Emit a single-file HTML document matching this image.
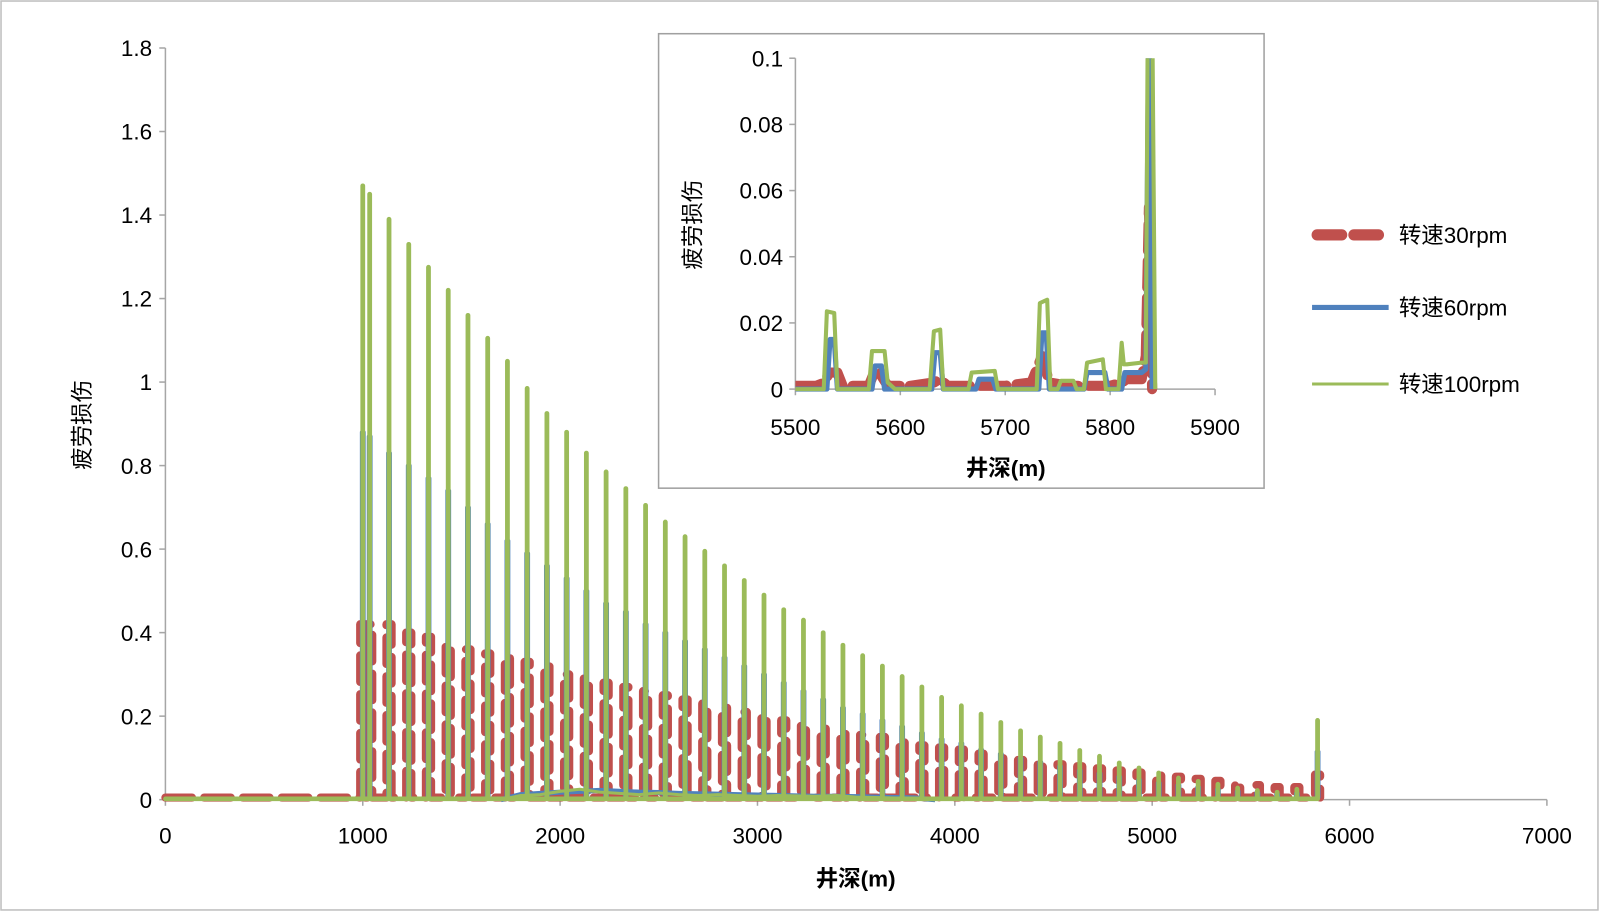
<!DOCTYPE html>
<html><head><meta charset="utf-8"><style>
html,body{margin:0;padding:0;background:#fff}
svg text{font-family:"Liberation Sans","Noto Sans CJK SC",sans-serif}
</style></head><body>
<svg id="chart" width="1600" height="912" viewBox="0 0 1567 893" preserveAspectRatio="none" xmlns="http://www.w3.org/2000/svg">
<rect x="1" y="1" width="1564" height="890" fill="#fff" stroke="#bfbfbf" stroke-width="1.5"/>
<defs>
<clipPath id="insetClip"><rect x="779" y="57" width="411" height="330"/></clipPath>
</defs>
<g id="main"></g>
<rect x="645" y="33" width="593" height="445" fill="#fff" stroke="#a0a0a0" stroke-width="1.5"/>
<g id="inset"></g>
<g id="legend">
<line x1="1290" y1="230" x2="1358" y2="230" stroke="#c0504d" stroke-width="11" stroke-dasharray="24,12" stroke-linecap="round"/>
<text x="1370" y="238" font-size="22">转速30rpm</text>
<line x1="1285" y1="301" x2="1360" y2="301" stroke="#4f81bd" stroke-width="5"/>
<text x="1370" y="309" font-size="22">转速60rpm</text>
<line x1="1285" y1="376" x2="1360" y2="376" stroke="#9bbb59" stroke-width="3"/>
<text x="1370" y="384" font-size="22">转速100rpm</text>
</g>
</svg>
<script>
// main chart data
const spikeDepths = [1000,1035,1133,1233,1333,1433,1533,1633,1733,1833,1933,2033,2133,2233,2333,2433,2533,2633,2733,2833,2933,3033,3133,3233,3333,3433,3533,3633,3733,3833,3933,4033,4133,4233,4333,4433,4533,4633,4733,4833,4933,5033,5133,5233,5333,5433,5533,5633,5733,5838];
const green100 = [1.47,1.45,1.39,1.33,1.275,1.22,1.16,1.105,1.05,0.985,0.925,0.88,0.83,0.785,0.745,0.705,0.665,0.63,0.595,0.56,0.525,0.49,0.455,0.43,0.40,0.37,0.345,0.32,0.295,0.27,0.245,0.225,0.205,0.185,0.165,0.15,0.135,0.118,0.104,0.088,0.076,0.064,0.052,0.044,0.037,0.028,0.022,0.018,0.025,0.19];
const blue60 = [0.88,0.87,0.83,0.80,0.77,0.74,0.70,0.66,0.62,0.59,0.56,0.53,0.50,0.47,0.45,0.42,0.40,0.38,0.36,0.34,0.32,0.30,0.28,0.26,0.24,0.22,0.205,0.19,0.175,0.16,0.145,0.135,0.12,0.11,0.10,0.09,0.08,0.07,0.063,0.055,0.048,0.04,0.035,0.03,0.025,0.02,0.017,0.013,0.015,0.115];
const red30 = [0.42,0.42,0.42,0.40,0.39,0.37,0.36,0.35,0.34,0.33,0.32,0.30,0.29,0.28,0.27,0.26,0.25,0.24,0.23,0.22,0.21,0.20,0.19,0.18,0.17,0.16,0.155,0.15,0.14,0.13,0.125,0.12,0.11,0.10,0.095,0.09,0.085,0.08,0.075,0.07,0.065,0.06,0.055,0.05,0.045,0.04,0.035,0.03,0.03,0.06];
// low-level background damage between spikes
const noiseDepths = [1700,1800,1900,2000,2100,2200,2300,2400,2500,2600,2700,2800,2900,3000,3100,3200,3300,3400,3500,3600,3700,3800,3900];
const blueNoise = [0,0.012,0.015,0.018,0.02,0.022,0.02,0.018,0.017,0.015,0.014,0.013,0.012,0.011,0.01,0.009,0.008,0.008,0.007,0.006,0.005,0.004,0];
const greenNoise = [0,0.01,0.012,0.02,0.025,0.018,0.015,0.012,0.016,0.012,0.01,0.012,0.01,0.008,0.01,0.009,0.008,0.01,0.006,0.005,0.004,0.003,0];
const xTicks = [0,1000,2000,3000,4000,5000,6000,7000];
const yTicks = [0,0.2,0.4,0.6,0.8,1,1.2,1.4,1.6,1.8];
// inset data
const insetXTicks = [5500,5600,5700,5800,5900];
const insetYTicks = [0,0.02,0.04,0.06,0.08,0.1];
const insetGreenX = [5500,5527,5530,5537,5540,5570,5573,5585,5588,5595,5628,5632,5638,5641,5665,5668,5690,5693,5730,5733,5740,5743,5750,5753,5765,5768,5775,5778,5793,5796,5808,5811,5813,5816,5830,5834,5836,5840,5843];
const insetGreenY = [0,0,0.0235,0.023,0,0,0.0115,0.0115,0.002,0,0,0.0175,0.018,0,0,0.005,0.0055,0,0,0.026,0.027,0,0,0.0025,0.0025,0,0,0.008,0.009,0,0,0.014,0.0075,0.0075,0.008,0.008,0.12,0.12,0];
const insetBlueX = [5500,5530,5533,5537,5540,5573,5576,5582,5585,5630,5633,5638,5641,5672,5675,5688,5691,5732,5735,5739,5742,5775,5778,5795,5798,5811,5814,5830,5834,5837,5840];
const insetBlueY = [0,0,0.015,0.015,0,0,0.007,0.007,0,0,0.011,0.011,0,0,0.003,0.003,0,0,0.017,0.017,0,0,0.005,0.005,0,0,0.005,0.005,0.006,0.12,0];
const insetRedX = [5500,5520,5528,5532,5540,5545,5570,5575,5580,5588,5610,5632,5638,5645,5700,5725,5735,5742,5760,5800,5812,5815,5830,5834,5837,5840];
const insetRedY = [0.001,0.001,0.002,0.005,0.005,0.001,0.001,0.005,0.005,0.001,0.001,0.002,0.003,0.001,0.001,0.002,0.01,0.002,0.001,0.001,0.002,0.003,0.003,0.01,0.055,0];

const NS = 'http://www.w3.org/2000/svg';
function mk(tag, attrs, parent){const e=document.createElementNS(NS,tag);for(const k in attrs)e.setAttribute(k,attrs[k]);parent.appendChild(e);return e;}

const X0=162,X1=1515,Y0=783,Y1=47;
const sx=v=>X0+(v/7000)*(X1-X0);
const sy=v=>Y0-(v/1.8)*(Y0-Y1);
const main=document.getElementById('main');
let ax=mk('line',{x1:X0,y1:Y1,x2:X0,y2:Y0,stroke:'#a6a6a6','stroke-width':1.5},main);


ax=mk('line',{x1:X0,y1:Y0,x2:X1,y2:Y0,stroke:'#a6a6a6','stroke-width':1.5},main);


yTicks.forEach(t=>{
  const y=sy(t);
  const tk=mk('line',{x1:X0-6,y1:y,x2:X0,y2:y,stroke:'#a6a6a6','stroke-width':1.5},main);
  
  
  const tx=mk('text',{x:X0-13,y:y+8,'font-size':22,'text-anchor':'end'},main);
  tx.textContent=String(t);
  
  
});
xTicks.forEach(t=>{
  const x=sx(t);
  const tk=mk('line',{x1:x,y1:Y0,x2:x,y2:Y0+6,stroke:'#a6a6a6','stroke-width':1.5},main);
  
  
  const tx=mk('text',{x:x,y:Y0+43,'font-size':22,'text-anchor':'middle'},main);
  tx.textContent=String(t);
  
  
});
let tt=mk('text',{x:838,y:868,'font-size':22,'font-weight':'bold','text-anchor':'middle'},main);
tt.textContent='井深(m)';


tt=mk('text',{x:0,y:0,'font-size':22,'text-anchor':'middle',transform:'translate(88,416) rotate(-90)'},main);
tt.textContent='疲劳损伤';



function spikePath(vals, half, base){
  let d=`M${sx(0)},${sy(base)} L${sx(spikeDepths[0]-half*2)},${sy(base)}`;
  spikeDepths.forEach((dp,i)=>{
    d+=` L${sx(dp-half)},${sy(base)} L${sx(dp-half)},${sy(vals[i])} L${sx(dp+half)},${sy(vals[i])} L${sx(dp+half)},${sy(base)}`;
  });
  return d;
}
function noisePath(vals){return noiseDepths.map((v,i)=>(i?'L':'M')+sx(v)+','+sy(vals[i])).join(' ');}
let p=mk('path',{d:spikePath(red30,13,0.005),fill:'none',stroke:'#c0504d','stroke-width':8,'stroke-dasharray':'26,12','stroke-linecap':'round','stroke-linejoin':'round'},main);


p=mk('path',{d:spikePath(blue60,7,0.003),fill:'none',stroke:'#4f81bd','stroke-width':3,'stroke-linejoin':'round'},main);


p=mk('path',{d:noisePath(blueNoise),fill:'none',stroke:'#4f81bd','stroke-width':5,'stroke-linejoin':'round'},main);


p=mk('path',{d:spikePath(green100,0.5,0.002),fill:'none',stroke:'#9bbb59','stroke-width':4.5,'stroke-linejoin':'round','stroke-linecap':'round'},main);


p=mk('path',{d:noisePath(greenNoise),fill:'none',stroke:'#9bbb59','stroke-width':3,'stroke-linejoin':'round'},main);



const IX0=779,IX1=1190,IY0=381,IY1=57;
const ix=v=>IX0+(v-5500)/400*(IX1-IX0);
const iy=v=>IY0-(v/0.1)*(IY0-IY1);
const inset=document.getElementById('inset');
ax=mk('line',{x1:IX0,y1:IY1,x2:IX0,y2:IY0,stroke:'#a6a6a6','stroke-width':1.5},inset);


ax=mk('line',{x1:IX0,y1:IY0,x2:IX1,y2:IY0,stroke:'#a6a6a6','stroke-width':1.5},inset);


insetYTicks.forEach(t=>{
  const y=iy(t);
  const tk=mk('line',{x1:IX0-6,y1:y,x2:IX0,y2:y,stroke:'#a6a6a6','stroke-width':1.5},inset);
  
  
  const tx=mk('text',{x:IX0-12,y:y+8,'font-size':22,'text-anchor':'end'},inset);
  tx.textContent=String(t);
  
  
});
insetXTicks.forEach(t=>{
  const x=ix(t);
  const tk=mk('line',{x1:x,y1:IY0,x2:x,y2:IY0+6,stroke:'#a6a6a6','stroke-width':1.5},inset);
  
  
  const tx=mk('text',{x:x,y:IY0+45,'font-size':22,'text-anchor':'middle'},inset);
  tx.textContent=String(t);
  
  
});
tt=mk('text',{x:985,y:466,'font-size':22,'font-weight':'bold','text-anchor':'middle'},inset);
tt.textContent='井深(m)';


tt=mk('text',{x:0,y:0,'font-size':22,'text-anchor':'middle',transform:'translate(686,220) rotate(-90)'},inset);
tt.textContent='疲劳损伤';


const ig=mk('g',{'clip-path':'url(#insetClip)'},inset);
function line(xs,ys){return xs.map((v,i)=>(i?'L':'M')+ix(v)+','+iy(ys[i])).join(' ');}
p=mk('path',{d:line(insetRedX,insetRedY),fill:'none',stroke:'#c0504d','stroke-width':10,'stroke-dasharray':'26,10','stroke-linecap':'round','stroke-linejoin':'round'},ig);


p=mk('path',{d:line(insetBlueX,insetBlueY),fill:'none',stroke:'#4f81bd','stroke-width':5,'stroke-linejoin':'round'},ig);


p=mk('path',{d:line(insetGreenX,insetGreenY),fill:'none',stroke:'#9bbb59','stroke-width':4,'stroke-linejoin':'round'},ig);


</script>
</body></html>
